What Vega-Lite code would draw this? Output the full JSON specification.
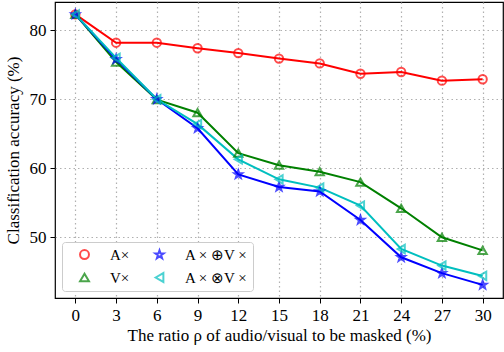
{
  "$schema": "https://vega.github.io/schema/vega-lite/v6.json",
  "width": 448,
  "height": 296,
  "autosize": {"type": "none"},
  "padding": {"left": 55, "top": 2, "right": 1, "bottom": 54},
  "background": "white",
  "config": {
    "font": "Liberation Serif",
    "view": {"stroke": "black", "strokeWidth": 1.2},
    "axis": {
      "labelFont": "Liberation Serif",
      "titleFont": "Liberation Serif",
      "labelFontSize": 17,
      "titleFontSize": 17,
      "titleFontWeight": "normal",
      "labelColor": "black",
      "titleColor": "black",
      "domain": false,
      "tickColor": "black",
      "tickSize": 5,
      "tickWidth": 1,
      "gridColor": "#b0b0b0",
      "gridDash": [1.5, 3],
      "gridWidth": 1.2
    }
  },
  "data": {
    "values": [
      {"x": 0, "s": "A×", "y": 82.3}, {"x": 3, "s": "A×", "y": 78.2}, {"x": 6, "s": "A×", "y": 78.2}, {"x": 9, "s": "A×", "y": 77.4}, {"x": 12, "s": "A×", "y": 76.7}, {"x": 15, "s": "A×", "y": 75.9}, {"x": 18, "s": "A×", "y": 75.2}, {"x": 21, "s": "A×", "y": 73.7}, {"x": 24, "s": "A×", "y": 73.95}, {"x": 27, "s": "A×", "y": 72.7}, {"x": 30, "s": "A×", "y": 72.9},
      {"x": 0, "s": "V×", "y": 82.3}, {"x": 3, "s": "V×", "y": 75.4}, {"x": 6, "s": "V×", "y": 69.95}, {"x": 9, "s": "V×", "y": 68.05}, {"x": 12, "s": "V×", "y": 62.2}, {"x": 15, "s": "V×", "y": 60.45}, {"x": 18, "s": "V×", "y": 59.5}, {"x": 21, "s": "V×", "y": 58.0}, {"x": 24, "s": "V×", "y": 54.2}, {"x": 27, "s": "V×", "y": 50.0}, {"x": 30, "s": "V×", "y": 48.1},
      {"x": 0, "s": "A × ⊕V ×", "y": 82.3}, {"x": 3, "s": "A × ⊕V ×", "y": 75.8}, {"x": 6, "s": "A × ⊕V ×", "y": 70.0}, {"x": 9, "s": "A × ⊕V ×", "y": 65.8}, {"x": 12, "s": "A × ⊕V ×", "y": 59.1}, {"x": 15, "s": "A × ⊕V ×", "y": 57.3}, {"x": 18, "s": "A × ⊕V ×", "y": 56.65}, {"x": 21, "s": "A × ⊕V ×", "y": 52.5}, {"x": 24, "s": "A × ⊕V ×", "y": 47.1}, {"x": 27, "s": "A × ⊕V ×", "y": 44.8}, {"x": 30, "s": "A × ⊕V ×", "y": 43.1},
      {"x": 0, "s": "A × ⊗V ×", "y": 82.3}, {"x": 3, "s": "A × ⊗V ×", "y": 76.0}, {"x": 6, "s": "A × ⊗V ×", "y": 70.0}, {"x": 9, "s": "A × ⊗V ×", "y": 66.4}, {"x": 12, "s": "A × ⊗V ×", "y": 61.3}, {"x": 15, "s": "A × ⊗V ×", "y": 58.4}, {"x": 18, "s": "A × ⊗V ×", "y": 57.2}, {"x": 21, "s": "A × ⊗V ×", "y": 54.6}, {"x": 24, "s": "A × ⊗V ×", "y": 48.3}, {"x": 27, "s": "A × ⊗V ×", "y": 45.9}, {"x": 30, "s": "A × ⊗V ×", "y": 44.4}
    ]
  },
  "encoding": {
    "x": {
      "field": "x", "type": "quantitative",
      "scale": {"domain": [-1.5, 31.5], "nice": false, "zero": false},
      "axis": {"values": [0, 3, 6, 9, 12, 15, 18, 21, 24, 27, 30], "title": "The ratio ρ of audio/visual to be masked (%)", "titlePadding": 4, "labelPadding": 4}
    },
    "y": {
      "field": "y", "type": "quantitative",
      "scale": {"domain": [41.2, 84.1], "nice": false, "zero": false},
      "axis": {"values": [50, 60, 70, 80], "title": "Classification accuracy (%)", "titlePadding": 7, "labelPadding": 4}
    },
    "color": {
      "field": "s", "type": "nominal",
      "scale": {"domain": ["A×", "V×", "A × ⊕V ×", "A × ⊗V ×"], "range": ["#ff0000", "#008000", "#0000ff", "#00bfbf"]},
      "legend": {
        "title": null,
        "orient": "bottom-left",
        "columns": 2,
        "offset": 7,
        "padding": 5,
        "columnPadding": 12,
        "rowPadding": 6,
        "fillColor": "white",
        "strokeColor": "#cccccc",
        "cornerRadius": 3,
        "labelFont": "Liberation Serif",
        "labelFontSize": 15,
        "labelColor": "black",
        "symbolSize": 80,
        "symbolStrokeWidth": 2,
        "symbolOffset": 10,
        "labelOffset": 18
      }
    }
  },
  "layer": [
    {
      "mark": {"type": "line", "strokeWidth": 2}
    },
    {
      "mark": {"type": "point", "filled": false, "strokeWidth": 2, "size": 70},
      "encoding": {
        "shape": {
          "field": "s", "type": "nominal",
          "scale": {"domain": ["A×", "V×", "A × ⊕V ×", "A × ⊗V ×"], "range": ["circle", "triangle-up", "M0,-1L0.235,-0.324L0.951,-0.309L0.38,0.124L0.588,0.809L0,0.4L-0.588,0.809L-0.38,0.124L-0.951,-0.309L-0.235,-0.324Z", "triangle-left"]}
        },
        "fill": {
          "condition": {"test": "datum.s === 'A × ⊕V ×'", "value": "#0000ff"},
          "value": "transparent"
        }
      }
    }
  ]
}
